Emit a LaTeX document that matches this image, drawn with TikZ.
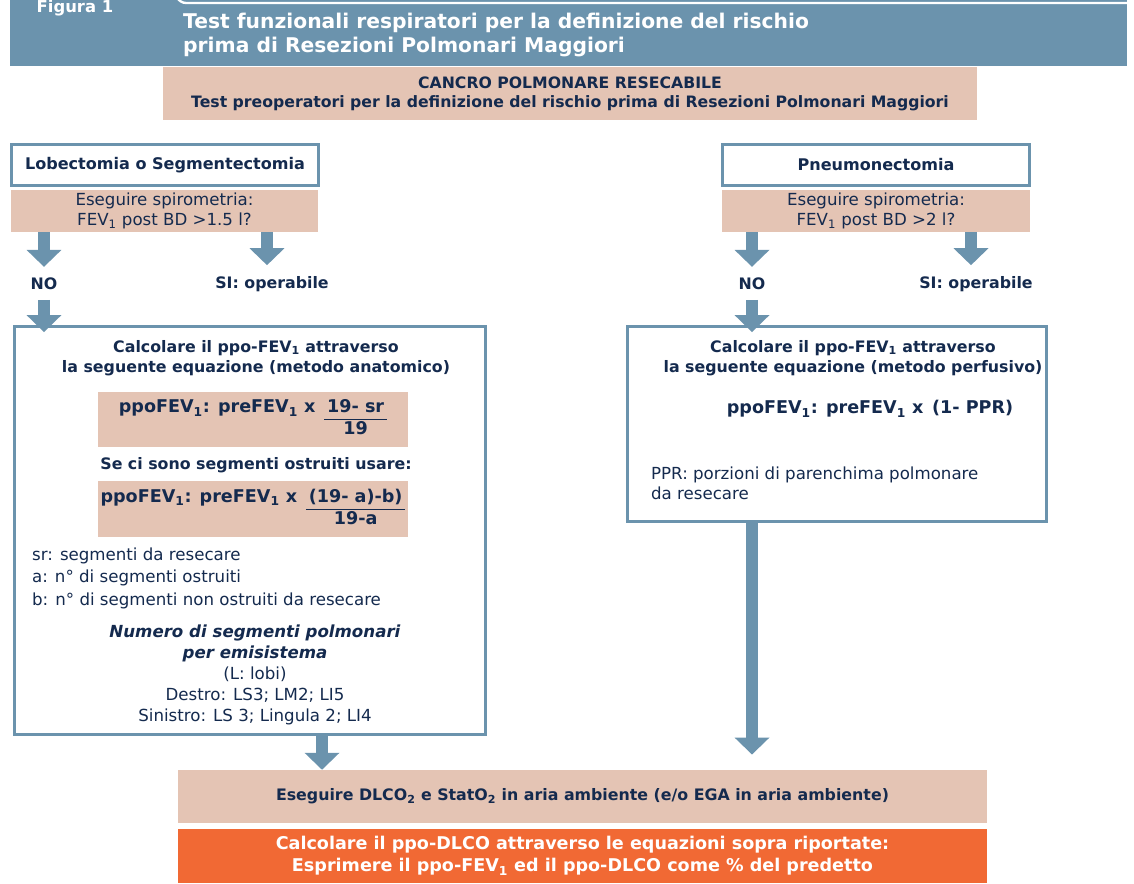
\documentclass[tikz,border=0pt]{standalone}
\usepackage{fontspec}
\setmainfont{DejaVu Sans}
\usepackage{tikz}
\usetikzlibrary{arrows.meta}

\definecolor{steel}{RGB}{107,147,173}
\definecolor{navy}{RGB}{20,42,78}
\definecolor{salmon}{RGB}{228,196,180}
\definecolor{flame}{RGB}{241,105,52}

\newcommand{\ix}[1]{\textsubscript{#1}}
\newcommand{\fs}[2]{\fontsize{#1}{#2}\selectfont}

\tikzset{
  pinkbox/.style={fill=salmon, text=navy, inner sep=0pt},
  framebox/.style={draw=steel, line width=2.5pt, fill=white, inner sep=0pt},
  bigarrow/.style={draw=steel, line width=10pt, -{Triangle[width=29pt,length=14.5pt]}},
  boldtxt/.style={text=navy, font=\bfseries\fs{13.5pt}{17pt}, align=center},
  plaintxt/.style={text=navy, font=\fs{14.2pt}{17pt}, align=center},
  formtxt/.style={font=\bfseries\fs{15pt}{18pt}},
}

\begin{document}
\begin{tikzpicture}[x=0.03cm, y=-0.03cm]
    \useasboundingbox (0,0) rectangle (1134,883);

    % header
    \fill[steel] (10,-2) rectangle (1127,66);
    \draw[white, line width=2pt] (1127,3) -- (186,3) to[out=180,in=-45] (176,-3);
    \node[white, font=\bfseries\fs{14pt}{16pt}, anchor=base] (figtab) at (75,12) {Figura 1};
    \node[white, font=\bfseries\fs{17.3pt}{21.3pt}, align=left, anchor=west, inner sep=0pt] (title) at (183,35)
        {Test funzionali respiratori per la definizione del rischio\\prima di Resezioni Polmonari Maggiori};

    \node[pinkbox, boldtxt, font=\bfseries\fs{13.4pt}{16.2pt}, minimum width=24.42cm, minimum height=1.59cm] (cancer) at (570,93.5)
        {CANCRO POLMONARE RESECABILE\\Test preoperatori per la definizione del rischio prima di Resezioni Polmonari Maggiori};

    % left branch
    \node[framebox, boldtxt, font=\bfseries\fs{13.7pt}{17pt}, minimum width=9.21cm, minimum height=1.25cm] (lobect) at (165,165)
        {Lobectomia o Segmentectomia};
    \node[pinkbox, plaintxt, minimum width=9.21cm, minimum height=1.26cm] (spiroL) at (164.5,211)
        {Eseguire spirometria:\\FEV\ix{1} post BD >1.5 l?};
    \node[boldtxt] (noL) at (44,284) {NO};
    \node[boldtxt] (siL) at (272,284) {SI: operabile};

    \node[framebox, minimum width=14.13cm, minimum height=12.24cm] (anatbox) at (250,530.5) {};
    \node[boldtxt] (anatcalc) at (256,358)
        {Calcolare il ppo-FEV\ix{1} attraverso\\la seguente equazione (metodo anatomico)};
    \node[pinkbox, formtxt, minimum width=9.3cm, minimum height=1.65cm] (formA) at (253,419.5)
        {ppoFEV\ix{1}: preFEV\ix{1} x\enspace\begin{tabular}[t]{@{\,}c@{\,}}19- sr\\\hline 19\end{tabular}};
    \node[boldtxt] (obstr) at (256,465) {Se ci sono segmenti ostruiti usare:};
    \node[pinkbox, formtxt, minimum width=9.3cm, minimum height=1.68cm] (formB) at (253,509)
        {ppoFEV\ix{1}: preFEV\ix{1} x\enspace\begin{tabular}[t]{@{\,}c@{\,}}(19- a)-b)\\\hline 19-a\end{tabular}};
    \node[plaintxt, font=\fs{14.2pt}{19.2pt}, align=left, anchor=west] (legendA) at (28,578)
        {sr: segmenti da resecare\\a: n° di segmenti ostruiti\\b: n° di segmenti non ostruiti da resecare};
    \node[plaintxt, font=\fs{14.2pt}{18pt}] (segnum) at (255,675)
        {\textbf{\textit{Numero di segmenti polmonari}}\\\textbf{\textit{per emisistema}}\\(L: lobi)\\Destro: LS3; LM2; LI5\\Sinistro: LS 3; Lingula 2; LI4};

    % right branch
    \node[framebox, boldtxt, font=\bfseries\fs{13.7pt}{17pt}, minimum width=9.21cm, minimum height=1.25cm] (pneum) at (876,165)
        {Pneumonectomia};
    \node[pinkbox, plaintxt, minimum width=9.21cm, minimum height=1.26cm] (spiroR) at (876,211)
        {Eseguire spirometria:\\FEV\ix{1} post BD >2 l?};
    \node[boldtxt] (noR) at (752,284) {NO};
    \node[boldtxt] (siR) at (976,284) {SI: operabile};

    \node[framebox, minimum width=12.57cm, minimum height=5.85cm] (perfbox) at (837,424) {};
    \node[boldtxt] (perfcalc) at (853,358)
        {Calcolare il ppo-FEV\ix{1} attraverso\\la seguente equazione (metodo perfusivo)};
    \node[text=navy, formtxt] (formC) at (870,409) {ppoFEV\ix{1}: preFEV\ix{1} x\enspace (1- PPR)};
    \node[plaintxt, align=left, anchor=west] (pprnote) at (647,483)
        {PPR: porzioni di parenchima polmonare\\da resecare};

    % bottom
    \node[pinkbox, boldtxt, font=\bfseries\fs{13.5pt}{17pt}, minimum width=24.27cm, minimum height=1.59cm] (dlco) at (582.5,796.5)
        {Eseguire DLCO\ix{2} e StatO\ix{2} in aria ambiente (e/o EGA in aria ambiente)};
    \node[fill=flame, text=white, inner sep=0pt, align=center, font=\bfseries\fs{15pt}{18.8pt}, minimum width=24.27cm, minimum height=1.62cm] (ppodlco) at (582.5,856)
        {Calcolare il ppo-DLCO attraverso le equazioni sopra riportate:\\Esprimere il ppo-FEV\ix{1} ed il ppo-DLCO come \% del predetto};

    % arrows
    \draw[bigarrow, shorten >=6pt] (spiroL.south -| noL) -- (noL.north);
    \draw[bigarrow, shorten >=6pt] ([xshift=-0.15cm]siL.north |- spiroL.south) -- ([xshift=-0.15cm]siL.north);
    \draw[bigarrow, shorten <=5pt, shorten >=-6pt] (noL.south) -- (noL.south |- anatbox.north);
    \draw[bigarrow, shorten >=6pt] (spiroR.south -| noR) -- (noR.north);
    \draw[bigarrow, shorten >=6pt] ([xshift=-0.15cm]siR.north |- spiroR.south) -- ([xshift=-0.15cm]siR.north);
    \draw[bigarrow, shorten <=5pt, shorten >=-6pt] (noR.south) -- (noR.south |- perfbox.north);
    \draw[bigarrow, shorten >=13pt] (perfbox.south -| noR) -- (dlco.north -| noR);
    \draw[bigarrow] ([xshift=2.16cm]anatbox.south) -- ([xshift=2.16cm]anatbox.south |- dlco.north);
\end{tikzpicture}
\end{document}
